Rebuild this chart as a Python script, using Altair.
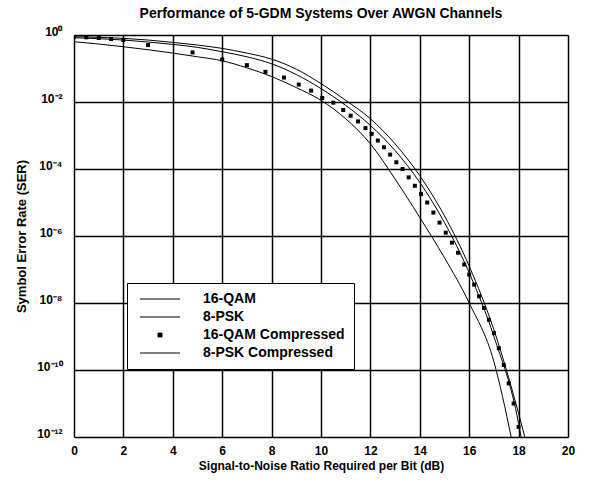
import altair as alt
import pandas as pd

series_names = ["16-QAM", "8-PSK", "16-QAM Compressed", "8-PSK Compressed"]

# SNR per bit (dB) and log10(SER)
qam_snr = [0, 1, 2, 3, 4, 5, 6, 7, 8, 9, 10, 11, 12, 13, 14, 15, 16, 17, 17.7]
qam_exp = [-0.2, -0.27, -0.35, -0.44, -0.54, -0.65, -0.77, -0.98, -1.24, -1.57,
           -1.95, -2.5, -3.25, -4.3, -5.45, -6.65, -8.0, -9.75, -12.0]

psk_snr = [0, 1, 2, 3, 4, 5, 6, 7, 8, 9, 10, 11, 12, 13, 14, 15, 16, 17, 18, 18.25]
psk_exp = [-0.05, -0.07, -0.1, -0.15, -0.22, -0.3, -0.4, -0.54, -0.72, -1.02,
           -1.45, -1.95, -2.5, -3.25, -4.2, -5.4, -6.9, -8.8, -11.3, -12.0]

pskc_snr = [0, 1, 2, 3, 4, 5, 6, 7, 8, 9, 10, 11, 12, 13, 14, 15, 16, 17, 18, 18.1]
pskc_exp = [-0.08, -0.11, -0.15, -0.21, -0.28, -0.37, -0.5, -0.65, -0.86, -1.18,
            -1.6, -2.1, -2.7, -3.45, -4.4, -5.6, -7.1, -9.0, -11.6, -12.0]

qamc_snr = [0, 0.5, 1, 1.5, 2, 3.0, 4.8, 6.0, 7.0, 7.75, 8.5, 9.1, 9.6, 10.05, 10.5,
            10.9, 11.2, 11.5, 11.8, 12.05, 12.3, 12.55, 12.8, 13.05, 13.3, 13.55,
            13.8, 14.05, 14.3, 14.55, 14.8, 15.05, 15.3, 15.55, 15.8, 16.0, 16.2,
            16.4, 16.6, 16.8, 17.0, 17.2, 17.4, 17.6, 17.8, 18.0]
qamc_exp = [-0.05, -0.07, -0.09, -0.12, -0.15, -0.3, -0.52, -0.73, -0.9, -1.1, -1.27,
            -1.48, -1.66, -1.88, -2.02, -2.24, -2.41, -2.58, -2.78, -2.95, -3.15,
            -3.35, -3.57, -3.8, -4.0, -4.25, -4.5, -4.75, -5.0, -5.3, -5.6, -5.9,
            -6.2, -6.5, -6.85, -7.15, -7.45, -7.8, -8.15, -8.5, -8.9, -9.35, -9.85,
            -10.4, -11.0, -11.7]

x_ticks = list(range(0, 21, 2))
y_ticks = [1e0, 1e-2, 1e-4, 1e-6, 1e-8, 1e-10, 1e-12]


def frame(name, snr, ex):
    return pd.DataFrame({"snr": snr, "ser": [10.0 ** e for e in ex], "series": name})


lines_df = pd.concat([
    frame("16-QAM", qam_snr, qam_exp),
    frame("8-PSK", psk_snr, psk_exp),
    frame("8-PSK Compressed", pskc_snr, pskc_exp),
], ignore_index=True)
dots_df = frame("16-QAM Compressed", qamc_snr, qamc_exp)

FONT = "Liberation Sans"

label_expr = ("'10' + (datum.value >= 0.5 ? '⁰' : datum.value >= 5e-3 ? '⁻²' : "
              "datum.value >= 5e-5 ? '⁻⁴' : datum.value >= 5e-7 ? '⁻⁶' : "
              "datum.value >= 5e-9 ? '⁻⁸' : datum.value >= 5e-11 ? '⁻¹⁰' : '⁻¹²')")

x_enc = alt.X("snr:Q",
              scale=alt.Scale(domain=[0, 20], nice=False, zero=False),
              axis=alt.Axis(values=x_ticks, title="Signal-to-Noise Ratio Required per Bit (dB)",
                            grid=True, gridColor="black", gridWidth=1.5, gridOpacity=1,
                            ticks=False, domain=False, labelPadding=8, titlePadding=4,
                            labelFont=FONT, labelFontSize=12, labelFontWeight="bold",
                            labelColor="black", titleFont=FONT, titleFontSize=12,
                            titleFontWeight="bold", titleColor="black", labelFlush=False))
y_enc = alt.Y("ser:Q",
              scale=alt.Scale(type="log", domain=[1e-12, 1], nice=False),
              axis=alt.Axis(values=y_ticks, title="Symbol Error Rate (SER)",
                            labelExpr=label_expr,
                            grid=True, gridColor="black", gridWidth=1.5, gridOpacity=1,
                            ticks=False, domain=False, labelPadding=12, titlePadding=8,
                            labelBaseline="alphabetic",
                            labelFont=FONT, labelFontSize=12, labelFontWeight="bold",
                            labelColor="black", titleFont=FONT, titleFontSize=13,
                            titleFontWeight="bold", titleColor="black", labelFlush=False))

LINE_PATH = "M-5,0H5"
SQUARE_PATH = "M-0.5,-0.5H0.5V0.5H-0.5Z"


def make_legend():
    return alt.Legend(
        title=None, orient="none", legendX=53, legendY=248,
        strokeColor="black", fillColor="white", padding=9, cornerRadius=0,
        symbolSize=64, symbolOffset=17, symbolStrokeColor="black",
        symbolFillColor="black", symbolStrokeWidth=1, labelOffset=36, rowPadding=4,
        labelFont=FONT, labelFontSize=14, labelFontWeight="bold", labelColor="black",
        labelLimit=300,
    )


lines = alt.Chart(lines_df).mark_line(color="black", strokeWidth=1, clip=True,
                                      interpolate="monotone").encode(
    x=x_enc, y=y_enc, detail="series:N", order="snr:Q")

dots = alt.Chart(dots_df).mark_point(filled=True, size=64, opacity=1, clip=True).encode(
    x=x_enc, y=y_enc,
    color=alt.Color("series:N",
                    scale=alt.Scale(domain=series_names, range=["black"] * 4),
                    legend=make_legend()),
    shape=alt.Shape("series:N",
                    scale=alt.Scale(domain=series_names,
                                    range=[LINE_PATH, LINE_PATH, SQUARE_PATH, LINE_PATH]),
                    legend=make_legend()),
)

chart = alt.layer(lines, dots).properties(
    width=494, height=402,
    title=alt.TitleParams("Performance of 5-GDM Systems Over AWGN Channels",
                          font=FONT, fontSize=14, fontWeight="bold", color="black",
                          anchor="middle", offset=4),
    autosize=alt.AutoSizeParams(type="none"),
    padding={"left": 74, "top": 35, "right": 36, "bottom": 43},
).configure_view(stroke="black", strokeWidth=2).configure(background="white")

chart.save("out.html", embed_options={"renderer": "svg", "actions": False})
